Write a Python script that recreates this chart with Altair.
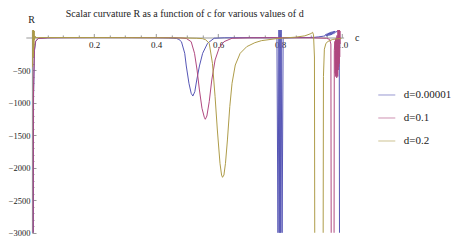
import altair as alt
import pandas as pd

# ---------------- data ----------------
labels = ["d=0.00001", "d=0.1", "d=0.2"]
colors = ["#5555B5", "#B0487F", "#AE9C48"]

# d = 0.00001 (blue)
c_d1 = [0.0035, 0.005, 0.008, 0.012, 0.02, 0.05, 0.1, 0.2, 0.3, 0.4, 0.44, 0.455,
        0.466, 0.474, 0.482, 0.4926, 0.4976, 0.5062, 0.5134, 0.5188, 0.5251, 0.5314,
        0.540, 0.5504, 0.5662, 0.5874, 0.62, 0.7, 0.78, 0.79,
        0.7935, 0.7965, 0.7995, 0.8000, 0.8005, 0.8035, 0.8065,
        0.81, 0.85, 0.9, 0.91, 0.925, 0.94, 0.945,
        0.948, 0.950, 0.952, 0.954, 0.956, 0.958, 0.960, 0.962, 0.964, 0.966,
        0.968, 0.970, 0.972, 0.974, 0.976, 0.978,
        0.985, 0.991, 0.9925]
r_d1 = [-6000, -900, -200, -60, -15, -4, -2, -1, -1, -3, -6, -10,
        -15, -30, -65, -243, -438, -704, -858, -900, -833, -653,
        -438, -243, -89, -12, -5, -3, -4, -8,
        -3300, 300, -3300, 300, -3300, 300, -3300,
        -8, -2, 0, 2, 10, 20, 25,
        50, 20, 60, 25, 70, 30, 75, 35, 85, 40,
        90, 50, 95, 60, 100, 80,
        95, 130, -6000]

# d = 0.1 (magenta)
c_d2 = [0.003, 0.0045, 0.0075, 0.011, 0.02, 0.05, 0.1, 0.2, 0.3, 0.4, 0.45, 0.48,
        0.4976, 0.5134, 0.5242, 0.5324, 0.540, 0.5482, 0.5558, 0.5589, 0.564, 0.5716,
        0.5798, 0.5905, 0.6032, 0.619, 0.6452,
        0.70, 0.8, 0.9, 0.95, 0.96, 0.964, 0.966, 0.9735, 0.975, 0.977,
        0.978, 0.9788, 0.9796, 0.9804, 0.9812, 0.982, 0.9828, 0.9836, 0.9844, 0.9852,
        0.986, 0.9868, 0.9876, 0.9884, 0.9892, 0.99, 0.9908, 0.9916, 0.9924, 0.9932,
        0.994]
r_d2 = [-6000, -900, -200, -60, -15, -5, -3, -2, -2, -3, -4, -7,
        -15, -65, -243, -500, -807, -1088, -1227, -1257, -1207, -987,
        -653, -346, -166, -65, -12,
        -5, -3, -5, -12, -30, -100, -6000, -6000, -200, -60,
        -550, -20, -600, -40, -580, -10, -620, 30, -560, -20,
        -600, 150, -500, 200, -450, 250, -400, 200, -300, 100,
        -100]

# d = 0.2 (gold)
c_d3 = [0.002, 0.003, 0.004, 0.005, 0.006, 0.007, 0.008, 0.010, 0.013, 0.02,
        0.05, 0.1, 0.2, 0.3, 0.4, 0.45, 0.5, 0.53, 0.55, 0.56,
        0.5716, 0.582, 0.5905, 0.5978, 0.6063, 0.6114, 0.6145, 0.619, 0.624,
        0.6303, 0.6379, 0.6452, 0.6556, 0.6714, 0.6926, 0.7188, 0.740, 0.7927,
        0.82, 0.85, 0.88, 0.9, 0.905, 0.908, 0.911, 0.913,
        0.938, 0.940, 0.943, 0.948, 0.955, 0.97, 0.985, 0.998]
r_d3 = [-450, 150, -300, 140, -150, 100, -40, 20, -5, -2,
        -1, -1, -1, -2, -3, -5, -8, -12, -18, -35,
        -89, -397, -910, -1422, -1934, -2114, -2149, -2114, -1934,
        -1575, -1063, -704, -423, -243, -141, -80, -49, -15,
        -5, 5, 25, 60, 80, 40, -300, -6000,
        -6000, -600, -180, -90, -60, -30, -20, -15]

# axis tick values
x_label_vals = [0.2, 0.4, 0.6, 0.8, 1.0]
x_tick_vals = [0.05, 0.1, 0.15, 0.2, 0.25, 0.3, 0.35, 0.4, 0.45, 0.5,
               0.55, 0.6, 0.65, 0.7, 0.75, 0.8, 0.85, 0.9, 0.95, 1.0]
y_label_vals = [-3000, -2500, -2000, -1500, -1000, -500]
y_tick_vals = list(range(-3000, 101, 100))

rows = []
for lab, cs, rs in zip(labels, [c_d1, c_d2, c_d3], [r_d1, r_d2, r_d3]):
    assert len(cs) == len(rs)
    for i, (c, r) in enumerate(zip(cs, rs)):
        rows.append({"c": c, "R": r, "d": lab, "i": i})
df = pd.DataFrame(rows)

# ---------------- layout ----------------
FONT = "'Liberation Serif', 'Times New Roman', 'DejaVu Serif', serif"
XD = [-0.02, 1.005]
YD = [-3000, 115]
W = 317.8
H = 202.7
y0 = H * YD[1] / (YD[1] - YD[0])          # px from top to R = 0
xoff = W * (0 - XD[0]) / (XD[1] - XD[0])   # px from left to c = 0

sx = alt.Scale(domain=XD, nice=False, zero=False)
sy = alt.Scale(domain=YD, nice=False, zero=False)

lines = alt.Chart(df).mark_line(clip=True, strokeWidth=1).encode(
    x=alt.X("c:Q", scale=sx, axis=alt.Axis(
        orient="bottom", offset=-(H - y0), values=x_label_vals, format=".1f",
        ticks=False, domain=False, grid=False, labelFont=FONT, labelFontSize=9,
        labelPadding=3, labelColor="#222", title=None)),
    y=alt.Y("R:Q", scale=sy, axis=alt.Axis(
        orient="left", offset=-xoff, values=y_label_vals, format="d",
        ticks=False, domain=False, grid=False, labelFont=FONT, labelFontSize=8.5,
        labelPadding=2, labelColor="#222", title=None)),
    color=alt.Color("d:N", scale=alt.Scale(domain=labels, range=colors),
                    legend=alt.Legend(orient="none", legendX=352, legendY=56, title=None,
                                      symbolType="stroke", symbolSize=289,
                                      symbolStrokeWidth=1, symbolOpacity=0.6,
                                      labelFont=FONT,
                                      labelFontSize=11, labelOffset=8, rowPadding=9,
                                      labelColor="#222")),
    order="i:Q",
)

frame = alt.Chart(df).mark_line(opacity=0, clip=True).encode(
    x=alt.X("c:Q", scale=sx, axis=alt.Axis(
        orient="top", offset=-y0, values=x_tick_vals, labels=False, grid=False,
        domain=True, domainColor="#999999", domainWidth=1.2, tickColor="#999999",
        tickSize={"condition": {"test": "abs(datum.value/0.2 - round(datum.value/0.2)) < 0.01",
                                "value": 4}, "value": 2.5},
        title="c", titleFont=FONT, titleFontSize=10, titleFontWeight="normal",
        titleColor="#222", titleAngle=0, titleX=331, titleY=0,
        titleAlign="center", titleBaseline="middle")),
    y=alt.Y("R:Q", scale=sy, axis=alt.Axis(
        orient="right", offset=-(W - xoff), values=y_tick_vals, labels=False, grid=False,
        domain=True, domainColor="#999999", domainWidth=1.2, tickColor="#999999",
        tickSize={"condition": {"test": "abs(datum.value/500 - round(datum.value/500)) < 0.01",
                                "value": 4}, "value": 2},
        title="R", titleFont=FONT, titleFontSize=10, titleFontWeight="normal",
        titleColor="#222", titleAngle=0, titleX=-1, titleY=-10,
        titleAlign="center", titleBaseline="middle")),
    detail="d:N",
    order="i:Q",
)

chart = alt.layer(lines, frame).resolve_axis(
    x="independent", y="independent"
).properties(
    width=W, height=H,
    title=alt.Title("Scalar curvature R as a function of c for various values of d",
                    font=FONT, fontSize=10, fontWeight="normal", color="#222",
                    anchor="middle", frame="group", offset=-4),
    autosize=alt.AutoSizeParams(type="none"),
    padding={"left": 17.8, "top": 22, "right": 118.4, "bottom": 8},
).configure_view(stroke=None)

chart.save("out.html", embed_options={"renderer": "svg", "actions": False})
